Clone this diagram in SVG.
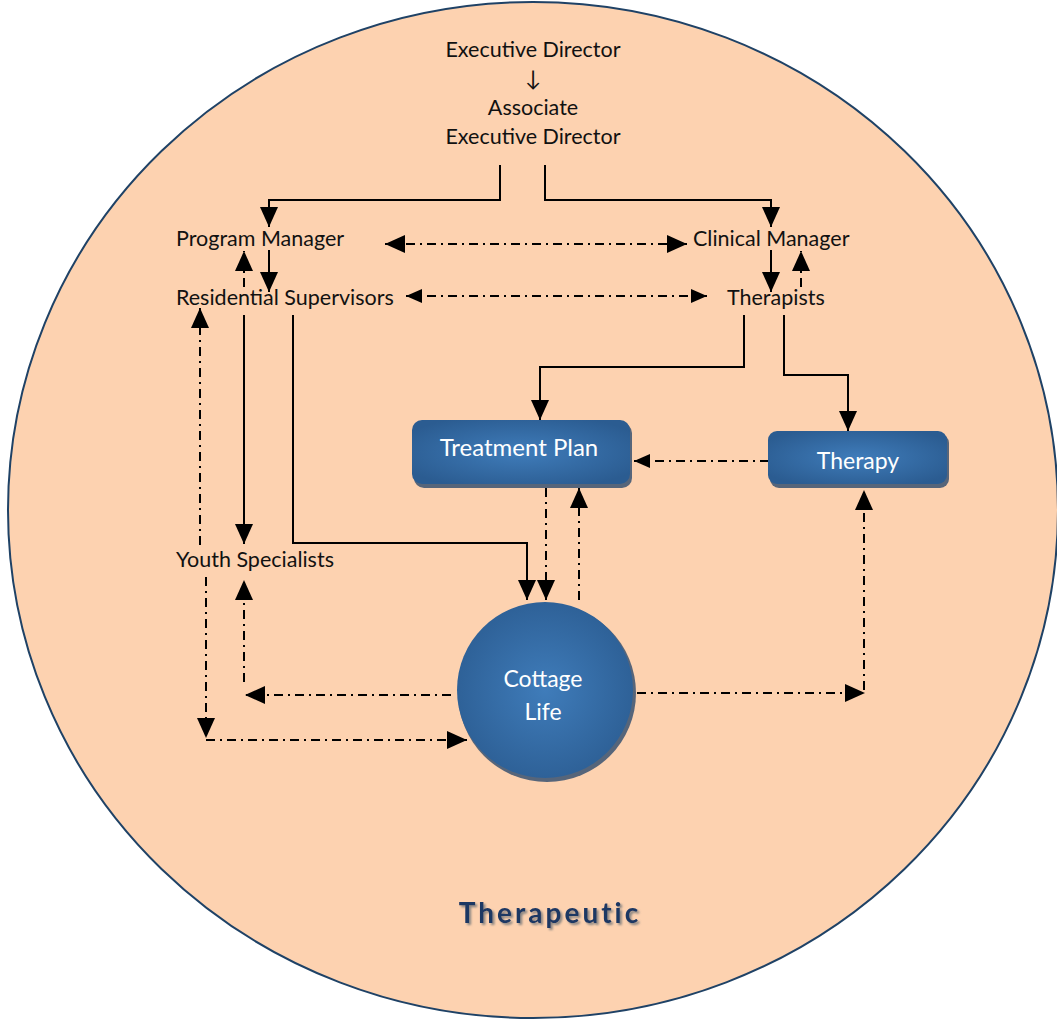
<svg xmlns="http://www.w3.org/2000/svg" width="1057" height="1019" viewBox="0 0 1057 1019">
<defs>
<style>
.t{font-family:Lato,"Open Sans","Liberation Sans",sans-serif;font-size:21.5px;fill:#111}
.w{font-family:Lato,"Open Sans","Liberation Sans",sans-serif;font-size:23px;fill:#fff;text-anchor:middle}
.s{fill:none;stroke:#000;stroke-width:2}
.d{fill:none;stroke:#000;stroke-width:2;stroke-dasharray:9 5 2 5}
</style>
<marker id="a" markerUnits="userSpaceOnUse" markerWidth="20" markerHeight="18" refX="20" refY="9" orient="auto"><path d="M0,0 L20,9 L0,18 z" fill="#000"/></marker>
<marker id="b" markerUnits="userSpaceOnUse" markerWidth="16" markerHeight="14" refX="16" refY="7" orient="auto"><path d="M0,0 L16,7 L0,14 z" fill="#000"/></marker>
<marker id="bs" markerUnits="userSpaceOnUse" markerWidth="16" markerHeight="14" refX="0" refY="7" orient="auto"><path d="M16,0 L0,7 L16,14 z" fill="#000"/></marker>
<marker id="as" markerUnits="userSpaceOnUse" markerWidth="20" markerHeight="18" refX="0" refY="9" orient="auto"><path d="M20,0 L0,9 L20,18 z" fill="#000"/></marker>
<radialGradient id="g" cx="50%" cy="50%" r="60%">
<stop offset="0" stop-color="#3F7CBA"/>
<stop offset="1" stop-color="#2B5C91"/>
</radialGradient>
<filter id="ts" x="-10%" y="-20%" width="130%" height="150%"><feDropShadow dx="2" dy="2" stdDeviation="0.8" flood-color="#7d7d7d" flood-opacity="0.9"/></filter>
</defs>
<rect width="1057" height="1019" fill="#fff"/>
<g id="background">
<ellipse cx="533" cy="510" rx="525" ry="508" fill="#FDD2B0" stroke="#1F4266" stroke-width="2"/>
</g>
<g id="connectors">
<path class="s" d="M500,165 V200 H269 V227" marker-end="url(#a)"/>
<path class="s" d="M545,165 V200 H771 V227" marker-end="url(#a)"/>
<path class="s" d="M269,250 V292" marker-end="url(#a)"/>
<path class="s" d="M771,250 V292" marker-end="url(#a)"/>
<path class="d" d="M244,287 V251" marker-end="url(#a)"/>
<path class="d" d="M801,287 V251" marker-end="url(#a)"/>
<path class="s" d="M244,315 V544" marker-end="url(#a)"/>
<path class="s" d="M293,315 V543 H527 V600" marker-end="url(#a)"/>
<path class="d" d="M546,488 V600" marker-end="url(#a)"/>
<path class="d" d="M579,600 V488" marker-end="url(#a)"/>
<path class="s" d="M744,315 V367 H540 V420" marker-end="url(#a)"/>
<path class="s" d="M784,315 V375 H848 V431" marker-end="url(#a)"/>
<path class="d" d="M769,461 H634" marker-end="url(#b)"/>
<path class="d" d="M385,244 H687" marker-start="url(#as)" marker-end="url(#a)"/>
<path class="d" d="M406,296 H707" marker-start="url(#bs)" marker-end="url(#b)"/>
<path class="d" d="M200,545 V308" marker-end="url(#a)"/>
<path class="d" d="M206,577 V738" marker-end="url(#a)"/>
<path class="d" d="M206,740 H467" marker-end="url(#a)"/>
<path class="d" d="M451,695 H245" marker-end="url(#a)"/>
<path class="d" d="M244,682 V580" marker-end="url(#a)"/>
<path class="d" d="M637,693 H865" marker-end="url(#a)"/>
<path class="d" d="M864,690 V490" marker-end="url(#a)"/>
</g>
<g id="executive-director">
<text class="t" x="533" y="57" text-anchor="middle">Executive Director</text>
<text class="t" x="533" y="86" text-anchor="middle">↓</text>
<text class="t" x="533" y="115" text-anchor="middle">Associate</text>
<text class="t" x="533" y="144" text-anchor="middle">Executive Director</text>
</g>
<g id="program-manager"><text class="t" x="176" y="246">Program Manager</text></g>
<g id="residential-supervisors"><text class="t" x="176" y="305">Residential Supervisors</text></g>
<g id="clinical-manager"><text class="t" x="693" y="246">Clinical Manager</text></g>
<g id="therapists"><text class="t" x="727" y="305">Therapists</text></g>
<g id="youth-specialists"><text class="t" x="176" y="567">Youth Specialists</text></g>
<g id="treatment-plan">
<rect x="414" y="423" width="218" height="65" rx="10" fill="#56657A"/>
<rect x="412" y="420" width="218" height="64" rx="10" fill="url(#g)"/>
<text class="w" x="519" y="456" style="font-size:24px">Treatment Plan</text>
</g>
<g id="therapy">
<rect x="770" y="434" width="179" height="54" rx="9" fill="#56657A"/>
<rect x="768" y="431" width="179" height="53" rx="9" fill="url(#g)"/>
<text class="w" x="858" y="469">Therapy</text>
</g>
<g id="cottage-life">
<circle cx="547" cy="693" r="89" fill="#56657A"/>
<circle cx="545" cy="690" r="88" fill="url(#g)"/>
<text class="w" x="543" y="687">Cottage</text>
<text class="w" x="543" y="720">Life</text>
</g>
<g id="title">
<text x="550" y="923" text-anchor="middle" filter="url(#ts)" style="font-family:Lato,'Open Sans','Liberation Sans',sans-serif;font-size:28px;font-weight:bold;letter-spacing:3px;fill:#1F3864">Therapeutic</text>
</g>
</svg>
